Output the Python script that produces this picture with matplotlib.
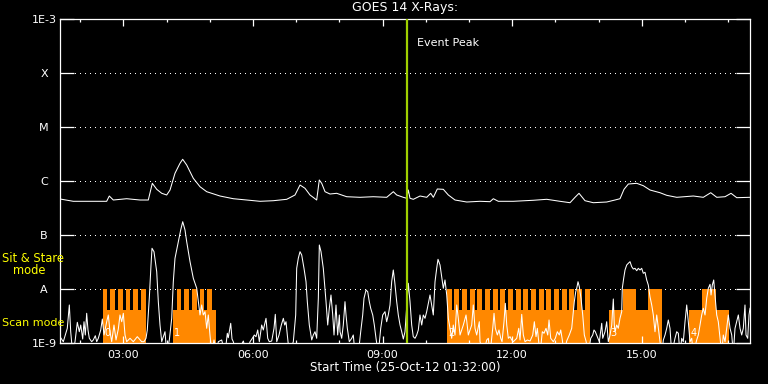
import matplotlib
matplotlib.use("Agg")
import matplotlib.pyplot as plt
import numpy as np
from matplotlib.ticker import FixedLocator, FuncFormatter, NullLocator

# time axis in decimal hours of 25-Oct-12, start 01:32
START_HOUR = 1.5333
END_HOUR = 17.505
EVENT_PEAK = 9.57

# GOES 14 long channel (1-8 A), log10 flux
long_t = [1.533, 1.841, 2.614, 2.674, 2.767, 3.077, 3.385, 3.577, 3.670, 3.772,
          3.888, 4.003, 4.080, 4.195, 4.311, 4.373, 4.466, 4.619, 4.774, 4.929,
          5.237, 5.545, 5.855, 6.163, 6.471, 6.781, 6.973, 7.089, 7.204, 7.320,
          7.475, 7.535, 7.591, 7.668, 7.783, 7.938, 8.170, 8.478, 8.786, 9.096,
          9.249, 9.327, 9.480, 9.559, 9.596, 9.635, 9.712, 9.867, 10.022, 10.114,
          10.175, 10.267, 10.406, 10.522, 10.677, 10.948, 11.256, 11.487, 11.564, 11.679,
          12.027, 12.489, 12.800, 13.107, 13.339, 13.455, 13.547, 13.686, 13.878, 14.188,
          14.380, 14.496, 14.589, 14.689, 14.883, 15.035, 15.191, 15.422, 15.577, 15.809,
          16.193, 16.424, 16.596, 16.735, 16.927, 17.066, 17.198, 17.506]
long_log = [-6.333, -6.376, -6.376, -6.278, -6.352, -6.328, -6.352, -6.352, -6.043, -6.154,
            -6.228, -6.259, -6.167, -5.857, -5.672, -5.598, -5.704, -5.950, -6.106, -6.198,
            -6.278, -6.328, -6.352, -6.376, -6.365, -6.339, -6.259, -6.074, -6.135, -6.259,
            -6.352, -5.981, -6.043, -6.198, -6.241, -6.228, -6.291, -6.302, -6.291, -6.302,
            -6.198, -6.259, -6.302, -6.320, -6.167, -6.320, -6.339, -6.278, -6.302, -6.228,
            -6.302, -6.148, -6.154, -6.259, -6.352, -6.389, -6.376, -6.383, -6.328, -6.376,
            -6.376, -6.357, -6.339, -6.376, -6.402, -6.302, -6.228, -6.365, -6.402, -6.389,
            -6.352, -6.328, -6.154, -6.056, -6.043, -6.087, -6.167, -6.217, -6.265, -6.302,
            -6.278, -6.302, -6.217, -6.302, -6.291, -6.228, -6.309, -6.302]

# GOES 14 short channel (0.5-4 A), log10 flux
short_t = [
    1.533, 1.610, 1.702, 1.749, 1.781, 1.827, 1.881, 1.934, 1.980, 2.013,
    2.059, 2.089, 2.119, 2.151, 2.181, 2.212, 2.267, 2.304, 2.351, 2.383,
    2.420, 2.476, 2.513, 2.552, 2.614, 2.651, 2.691, 2.730, 2.783, 2.830,
    2.883, 2.922, 2.962, 2.999, 3.038, 3.077, 3.154, 3.230, 3.323, 3.424,
    3.478, 3.524, 3.554, 3.600, 3.640, 3.663, 3.709, 3.772, 3.809, 3.848,
    3.888, 3.964, 4.003, 4.064, 4.119, 4.156, 4.195, 4.272, 4.327, 4.374,
    4.427, 4.466, 4.543, 4.619, 4.698, 4.735,
    4.774, 4.813, 4.850, 4.890, 4.929, 4.966, 5.005, 5.045, 5.098, 5.160,
    5.197, 5.276, 5.353, 5.406, 5.429, 5.485, 5.515, 5.545, 5.623, 5.777,
    5.855, 5.932, 5.994, 6.031, 6.070, 6.110, 6.147, 6.202, 6.239, 6.302,
    6.341, 6.378, 6.434, 6.487, 6.517, 6.550, 6.603, 6.656, 6.703, 6.735,
    6.765, 6.795, 6.841, 6.934, 6.989, 7.012, 7.049, 7.089, 7.128, 7.181,
    7.228, 7.258, 7.304, 7.360, 7.397, 7.436, 7.475, 7.513, 7.536, 7.575,
    7.628, 7.691, 7.730, 7.767, 7.806, 7.846, 7.876, 7.922, 7.961, 7.999,
    8.015, 8.054, 8.091, 8.130, 8.154, 8.184, 8.230, 8.286, 8.322, 8.362,
    8.438, 8.494, 8.540, 8.570, 8.617, 8.656, 8.693, 8.725, 8.772, 8.809,
    8.848, 8.901, 8.957, 9.003, 9.056, 9.095, 9.132, 9.172, 9.211, 9.248,
    9.281, 9.327, 9.364, 9.404, 9.443, 9.480, 9.519, 9.596, 9.635, 9.674,
    9.711, 9.751, 9.790, 9.827, 9.866, 9.906, 9.943, 9.982, 10.021, 10.059,
    10.098, 10.137, 10.174, 10.214, 10.253, 10.283, 10.330, 10.369, 10.406, 10.445,
    10.485, 10.522, 10.561, 10.600, 10.637, 10.677, 10.716, 10.753, 10.793, 10.869,
    10.932, 10.985, 11.063, 11.100, 11.140, 11.179, 11.239,
    11.256, 11.332, 11.411, 11.448, 11.487, 11.550, 11.580, 11.610, 11.657, 11.695,
    11.735, 11.765, 11.811, 11.841, 11.874, 11.911, 11.950, 11.990, 12.027, 12.105,
    12.152, 12.182, 12.221, 12.258, 12.298, 12.351, 12.414, 12.476, 12.513, 12.552,
    12.582, 12.644, 12.698, 12.737, 12.783, 12.823, 12.853, 12.892, 12.952, 12.999,
    13.045, 13.091, 13.124, 13.161, 13.200, 13.262, 13.322, 13.378, 13.415, 13.438,
    13.471, 13.494, 13.524, 13.554, 13.593, 13.633, 13.670, 13.709, 13.762, 13.818,
    13.864, 13.894, 13.924, 13.971, 14.017, 14.073, 14.096, 14.149, 14.188, 14.225,
    14.265, 14.304, 14.341, 14.364,
    14.380, 14.419, 14.456, 14.496, 14.535, 14.549, 14.581, 14.612, 14.651, 14.688,
    14.728, 14.767, 14.804, 14.843, 14.883, 14.920, 14.959, 14.998, 15.035, 15.075,
    15.114, 15.151, 15.190, 15.230, 15.267, 15.306, 15.346, 15.383, 15.422, 15.462,
    15.499, 15.538, 15.577, 15.614, 15.653, 15.693, 15.769, 15.809, 15.846, 15.885,
    15.924, 15.961, 16.001, 16.040, 16.077, 16.116, 16.156, 16.193, 16.271, 16.309,
    16.348, 16.387, 16.424, 16.464, 16.503, 16.540, 16.580, 16.603, 16.633, 16.665,
    16.695, 16.734, 16.771, 16.811, 16.850, 16.887, 16.927, 16.966, 17.003, 17.043,
    17.082, 17.119, 17.158, 17.197, 17.235, 17.274, 17.313, 17.350, 17.389, 17.413,
    17.452, 17.482, 17.505]
short_log = [
    -8.883, -8.976, -8.728, -8.296, -8.791, -9.2, -8.976, -8.617, -8.791, -8.667,
    -8.926, -8.606, -8.852, -8.450, -8.759, -8.913, -8.976, -8.944, -8.865, -8.976,
    -8.913, -8.759, -8.556, -8.852, -8.606, -8.481, -8.791, -8.976, -8.667, -8.944,
    -8.741, -8.481, -8.606, -8.450, -8.852, -8.976, -8.913, -8.976, -8.883, -8.976,
    -8.976, -8.913, -8.759, -8.172, -7.556, -7.246, -7.309, -7.680, -8.235, -8.667,
    -8.976, -8.791, -9.2, -8.944, -8.543, -7.865, -7.432, -7.124, -6.907, -6.754,
    -6.907, -7.124, -7.494, -7.802, -7.987, -8.235,
    -8.481, -8.296, -8.481, -8.420, -8.728, -8.481, -8.852, -9.2, -8.944, -9.2,
    -8.976, -8.944, -9.2, -8.820, -8.902, -8.635, -8.926, -8.976, -9.2, -8.963,
    -9.2, -8.976, -8.902, -8.852, -8.883, -8.759, -8.976, -8.667, -8.759, -8.543,
    -8.913, -8.976, -8.963, -8.728, -8.469, -8.976, -8.852, -8.667, -8.543, -8.667,
    -8.606, -8.852, -9.2, -8.976, -8.481, -7.617, -7.432, -7.309, -7.370, -7.617,
    -7.865, -8.235, -8.667, -8.944, -8.852, -8.791, -8.913, -8.172, -7.185, -7.309,
    -7.617, -8.235, -8.667, -8.357, -8.111, -8.481, -8.852, -8.296, -8.852, -8.481,
    -8.791, -8.913, -8.667, -8.235, -8.481, -8.728, -8.976, -8.913, -8.852, -9.2,
    -9.2, -8.791, -8.481, -8.172, -8.019, -8.050, -8.235, -8.357, -8.481, -8.667,
    -8.913, -9.2, -8.728, -8.481, -8.420, -8.606, -8.481, -8.296, -7.865, -7.648,
    -7.865, -8.235, -8.481, -8.667, -8.791, -8.926, -8.791, -7.894, -8.235, -8.667,
    -8.883, -8.913, -8.852, -8.759, -8.481, -8.667, -8.481, -8.543, -8.420, -8.265,
    -8.111, -8.296, -8.481, -7.865, -7.617, -7.450, -7.556, -7.772, -7.987, -7.833,
    -8.111, -8.543, -8.728, -8.913, -8.667, -8.852, -8.296, -8.543, -8.852, -8.667,
    -8.481, -8.852, -8.667, -8.296, -8.728, -8.852, -8.606,
    -8.976, -9.2, -8.944, -8.913, -9.2, -8.728, -8.450, -8.728, -8.852, -8.759,
    -8.913, -8.976, -8.606, -8.265, -8.667, -8.913, -8.883, -8.944, -8.976, -8.913,
    -8.728, -8.944, -8.469, -8.852, -8.976, -8.944, -8.963, -8.852, -8.606, -8.883,
    -8.728, -9.2, -8.791, -8.820, -8.728, -8.852, -8.574, -8.913, -8.976, -8.913,
    -8.791, -8.852, -8.759, -8.944, -9.2, -8.963, -8.852, -8.728, -8.420, -8.235,
    -8.050, -7.987, -7.865, -7.957, -8.172, -8.481, -8.852, -8.963, -9.2, -8.913,
    -8.852, -8.759, -8.791, -8.883, -8.976, -8.635, -8.913, -8.791, -8.606, -8.976,
    -8.852, -8.667, -8.185, -8.667,
    -8.791, -8.667, -8.728, -8.543, -8.420, -7.987, -7.802, -7.648, -7.556, -7.524,
    -7.494, -7.587, -7.630, -7.617, -7.661, -7.617, -7.648, -7.617, -7.709, -7.691,
    -7.833, -7.926, -8.143, -8.296, -8.481, -8.791, -8.481, -8.728, -8.976, -9.2,
    -8.944, -8.852, -8.728, -8.574, -8.728, -9.2, -8.913, -8.791, -8.820, -9.2,
    -8.913, -8.976, -8.606, -8.296, -8.606, -8.976, -8.913, -9.2, -8.944, -8.852,
    -8.667, -8.481, -8.357, -8.481, -8.172, -7.987, -7.913, -8.111, -7.926, -7.833,
    -8.111, -8.481, -8.606, -8.913, -9.2, -8.852, -8.976, -8.728, -8.481, -8.728,
    -8.852, -9.2, -8.728, -8.606, -8.481, -8.728, -8.852, -8.728, -8.296, -8.852,
    -8.913, -8.481, -8.357]

# observing mode timeline: 0 = none, 1 = scan, 2 = sit & stare
mode_t = [2.522, 2.628, 2.698, 2.806, 2.876, 2.985, 3.054, 3.161, 3.230, 3.339, 3.408, 3.517,
          4.142, 4.235, 4.344, 4.411, 4.519, 4.589, 4.698, 4.767, 4.876, 4.943, 5.052, 5.144,
          10.485, 10.600, 10.662, 10.778, 10.840, 10.955, 11.017, 11.133, 11.195, 11.310,
          11.372, 11.488, 11.550, 11.665, 11.727, 11.843, 11.904, 12.020, 12.082, 12.198,
          12.260, 12.375, 12.437, 12.553, 12.614, 12.730, 12.792, 12.908, 12.969, 13.085,
          13.147, 13.263, 13.324, 13.440, 13.502, 13.617, 13.679, 13.802,
          14.249, 14.554, 14.867, 15.151, 15.462,
          16.094, 16.401, 16.712, 17.019]
mode_v = [2, 1, 2, 1, 2, 1, 2, 1, 2, 1, 2, 0,
          1, 2, 1, 2, 1, 2, 1, 2, 1, 2, 1, 0,
          2, 1, 2, 1, 2, 1, 2, 1, 2, 1,
          2, 1, 2, 1, 2, 1, 2, 1, 2, 1,
          2, 1, 2, 1, 2, 1, 2, 1, 2, 1,
          2, 1, 2, 1, 2, 1, 2, 0,
          1, 2, 1, 2, 0,
          1, 2, 1, 0]
block_ids = ["0", "1", "2", "3", "4"]
block_start = [2.522, 4.142, 10.485, 14.249, 16.094]

y_ticks = [1e-9, 1e-8, 1e-7, 1e-6, 1e-5, 1e-4, 1e-3]
y_labels = ["1E-9", "A", "B", "C", "M", "X", "1E-3"]
x_major = [3, 6, 9, 12, 15]
x_minor = [2, 4, 5, 7, 8, 10, 11, 13, 14, 16, 17]

SCAN_LEVEL = 4.1e-9
SIT_LEVEL = 1e-8
ORANGE = "#ff8800"
YELLOW = "#ffff00"

fig = plt.figure(figsize=(7.68, 3.84), dpi=100, facecolor="black")
ax = fig.add_axes([60 / 768, 41 / 384, 690 / 768, 324 / 384])
ax.set_facecolor("black")
ax.set_yscale("log")
ax.set_ylim(1e-9, 1e-3)
ax.set_xlim(START_HOUR, END_HOUR)

# dotted flare-class grid
for lev in y_ticks[1:-1]:
    ax.axhline(lev, color="white", lw=0.72, ls=(0, (1, 5)), zorder=0.5,
               antialiased=False)

# mode blocks
mt = np.array([START_HOUR] + mode_t + [END_HOUR])
mv = np.array([0] + mode_v + [0])
mflux = np.where(mv == 2, SIT_LEVEL, np.where(mv == 1, SCAN_LEVEL, 1e-10))
ax.fill_between(mt, 1e-10, mflux, step="post", color=ORANGE, lw=0, zorder=1,
                antialiased=False)
for bid, bs in zip(block_ids, block_start):
    ax.text(bs + 0.03, 1.55e-9, bid, color="white", fontsize=7, ha="left",
            va="center", zorder=2)

ax.plot(long_t, 10 ** np.array(long_log), color="white", lw=0.75, zorder=3)
ax.plot(short_t, 10 ** np.array(short_log), color="white", lw=0.75, zorder=3)

ax.axvline(EVENT_PEAK, color="#a0d000", lw=1.6, zorder=4)
ax.text(EVENT_PEAK + 0.23, 10 ** -3.44, "Event Peak", color="white", fontsize=8,
        ha="left", va="center")

for s in ax.spines.values():
    s.set_color("white")
    s.set_linewidth(0.9)

ax.yaxis.set_major_locator(FixedLocator(y_ticks))
ax.yaxis.set_minor_locator(NullLocator())
ax.set_yticklabels(y_labels)
ax.tick_params(axis="y", which="major", direction="in", length=10.4, width=0.9,
               colors="white", labelsize=8, pad=11.5, right=True, left=True)
for lab in ax.get_yticklabels():
    lab.set_horizontalalignment("center")

ax.xaxis.set_major_locator(FixedLocator(x_major))
ax.xaxis.set_minor_locator(FixedLocator(x_minor))
ax.xaxis.set_major_formatter(FuncFormatter(lambda v, p: "%02d:00" % int(round(v))))
ax.tick_params(axis="x", which="major", direction="in", length=4.7, width=0.9,
               colors="white", labelsize=8, pad=5, top=True, bottom=True)
ax.tick_params(axis="x", which="minor", direction="in", length=2.4, width=0.9,
               colors="white", top=True, bottom=True)

fig.text(405 / 768, 1 - 8 / 384, "GOES 14 X-Rays:", color="white", fontsize=9,
         ha="center", va="center")
fig.text(405 / 768, 1 - 367.5 / 384, "Start Time (25-Oct-12 01:32:00)", color="white",
         fontsize=8.5, ha="center", va="center")
fig.text(2 / 768, 1 - 258 / 384, "Sit & Stare", color=YELLOW, fontsize=8.3,
         ha="left", va="center")
fig.text(13 / 768, 1 - 271 / 384, "mode", color=YELLOW, fontsize=8.3,
         ha="left", va="center")
fig.text(2 / 768, 1 - 323.5 / 384, "Scan mode", color=YELLOW, fontsize=8,
         ha="left", va="center")

fig.savefig("out.png", dpi=100, facecolor="black")
